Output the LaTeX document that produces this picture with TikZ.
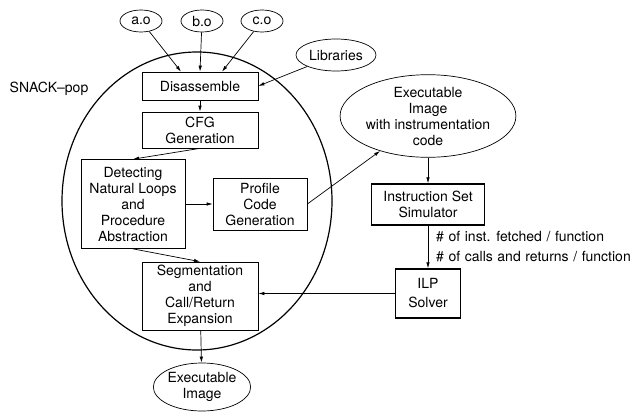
\documentclass[tikz,border=0pt]{standalone}
\usepackage{fontspec}
\setmainfont{TeX Gyre Heros}
\usetikzlibrary{positioning,shapes.geometric,arrows.meta}

\begin{document}
\begin{tikzpicture}[x=1pt, y=-1pt,
		font=\fontsize{14}{16}\selectfont,
		box/.style={draw, line width=0.7pt, align=center, inner sep=0pt},
		thickbox/.style={box, line width=1.3pt},
		oval/.style={draw, ellipse, line width=0.7pt, align=center, inner sep=0pt},
		note/.style={anchor=west, inner sep=0pt, execute at begin node={\spaceskip=4.6pt\relax}},
		arr/.style={-{Latex[length=6pt, width=3.5pt]}, line width=0.7pt}]
				\useasboundingbox (0,0) rectangle (633,413);
				% enclosing tool
				\node[draw, ellipse, line width=1.2pt, minimum width=270pt, minimum height=298pt] (snack) at (197,201) {};
				\node (snacklbl) at (49,89) {SNACK--pop};
				% inputs
				\node[oval, minimum width=42pt, minimum height=22pt] (ao) at (141,21) {a.o};
				\node[oval, minimum width=42pt, minimum height=22pt] (bo) at (202,21) {b.o};
				\node[oval, minimum width=42pt, minimum height=22pt] (co) at (262,21) {c.o};
				\node[oval, minimum width=80pt, minimum height=32pt] (lib) at (336,55) {Libraries};
				% stages
				\node[box, minimum width=116pt, minimum height=28pt] (dis) at (200,86) {Disassemble};
				\node[box, minimum width=116pt, minimum height=36pt] (cfg) at (200,130) {CFG\\Generation};
				\node[box, minimum width=104pt, minimum height=89pt] (det) at (133,204) {Detecting\\Natural Loops\\and\\Procedure\\Abstraction};
				\node[box, minimum width=94pt, minimum height=52pt] (prof) at (260,204) {Profile\\Code\\Generation};
				\node[box, minimum width=116pt, minimum height=68pt] (seg) at (200,296) {Segmentation\\and\\Call/Return\\Expansion};
				\node[oval, minimum width=97pt, minimum height=48pt] (exe) at (202,387) {Executable\\Image};
				% simulation side
				\node[oval, minimum width=147pt, minimum height=82pt] (exi) at (428,116) {Executable\\Image\\with instrumentation\\code};
				\node[thickbox, minimum width=113pt, minimum height=41pt] (iss) at (428,204.5) {Instruction Set\\Simulator};
				\node[thickbox, minimum width=65pt, minimum height=49pt] (ilp) at (428,293.5) {ILP\\[3pt]Solver};
				\node[note] (lbla) at (436,237) {\# of inst. fetched / function};
				\node[note] (lblb) at (436,257) {\# of calls and returns / function};
				% connectors
				\draw[arr] (ao) -- ([xshift=-19pt]dis.north);
				\draw[arr] (bo) -- (dis.north);
				\draw[arr] (co) -- ([xshift=22pt]dis.north);
				\draw[arr] (lib) -- (dis.east);
				\draw[arr] (dis) -- (cfg);
				\draw[arr] (cfg.south) -- (det.north);
				\draw[arr] (det) -- (prof);
				\draw[arr] (prof.east) -- (exi);
				\draw[arr] (det.south) -- (seg.north);
				\draw[arr] (exi) -- (iss);
				\draw[arr] (iss) -- (ilp);
				\draw[arr] (ilp.west) -- (ilp.west -| seg.east);
				\draw[arr] (seg) -- (exe);
			\end{tikzpicture}
\end{document}
